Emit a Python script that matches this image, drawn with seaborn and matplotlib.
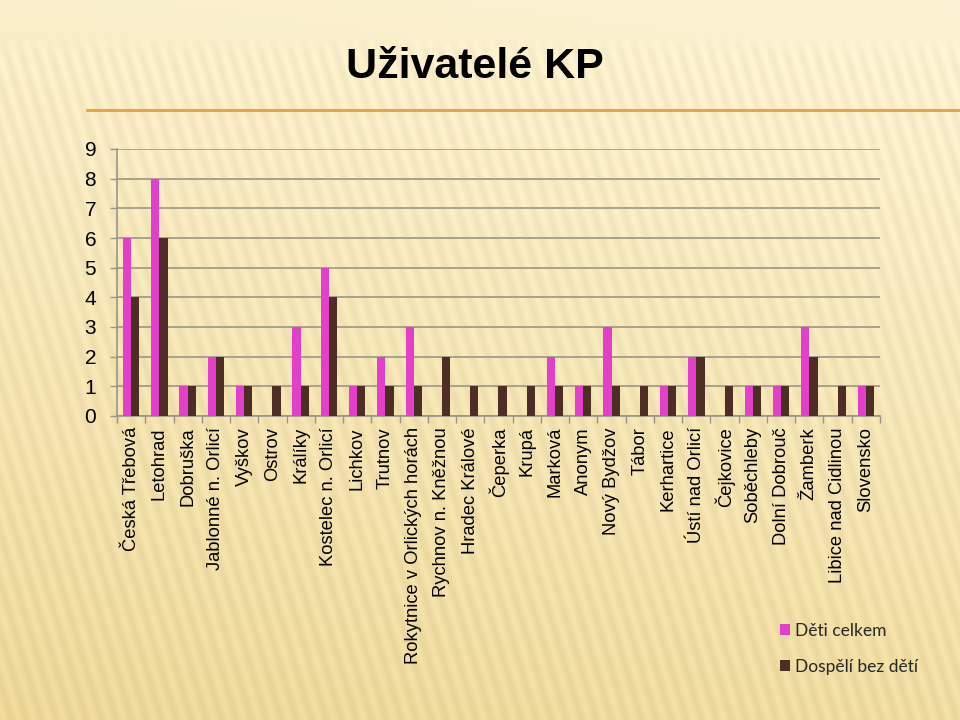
import numpy as np
import pandas as pd
import matplotlib
matplotlib.use("Agg")
import matplotlib.pyplot as plt
from matplotlib.lines import Line2D
from matplotlib.colors import to_rgb
import seaborn as sns

# ---- data ----
categories = [
    "Česká Třebová", "Letohrad", "Dobruška", "Jablonné n. Orlicí", "Vyškov",
    "Ostrov", "Králíky", "Kostelec n. Orlicí", "Lichkov", "Trutnov",
    "Rokytnice v Orlických horách", "Rychnov n. Kněžnou", "Hradec Králové",
    "Čeperka", "Krupá", "Marková", "Anonym", "Nový Bydžov", "Tábor",
    "Kerhartice", "Ústí nad Orlicí", "Čejkovice", "Soběchleby",
    "Dolní Dobrouč", "Žamberk", "Libice nad Cidlinou", "Slovensko",
]
deti_celkem = [6, 8, 1, 2, 1, 0, 3, 5, 1, 2, 3, 0, 0, 0, 0, 2, 1, 3, 0, 1, 2, 0, 1, 1, 3, 0, 1]
dospeli_bez_deti = [4, 6, 1, 2, 1, 1, 1, 4, 1, 1, 1, 2, 1, 1, 1, 1, 1, 1, 1, 1, 2, 1, 1, 1, 2, 1, 1]
series_names = ["Děti celkem", "Dospělí bez dětí"]
title_text = "Uživatelé KP"
y_ticks = list(range(0, 10))

df = pd.DataFrame({
    "kategorie": categories * 2,
    "hodnota": deti_celkem + dospeli_bez_deti,
    "serie": [series_names[0]] * len(categories) + [series_names[1]] * len(categories),
})

sns.set_theme(style="white")
plt.rcParams["font.family"] = ["Liberation Sans", "DejaVu Sans"]

W, H = 960, 720
fig = plt.figure(figsize=(9.6, 7.2), dpi=100)

# ---- background (cream gradient with soft diagonal stripes) ----
bg = fig.add_axes([0, 0, 1, 1], zorder=-10)
yy, xx = np.mgrid[0:H, 0:W].astype(float)
top = np.array(to_rgb("#FDF3D4"))
bot = np.array(to_rgb("#EDD898"))
t = np.clip((yy / H) * 0.85 + (1 - xx / W) * 0.15, 0, 1)
img = top[None, None, :] * (1 - t[..., None]) + bot[None, None, :] * t[..., None]
stripe = np.sin(2 * np.pi * (xx + (H - yy) * 0.3) / 15.0)
mask = np.clip((yy - 35) / 20.0, 0, 1)
img = img + (0.02 * stripe * mask)[..., None]
img = np.clip(img, 0, 1)
bg.imshow(img, aspect="auto", extent=[0, W, H, 0])
bg.set_axis_off()

# decorative orange rule
fig.add_artist(Line2D([87 / W, 1.0], [1 - 110 / H, 1 - 110 / H],
                      transform=fig.transFigure, color="#E8A540", lw=2.2))

# ---- chart ----
ax = fig.add_axes([117 / W, 1 - 416 / H, (880 - 117) / W, (416 - 149) / H])
ax.set_facecolor("none")
sns.barplot(data=df, x="kategorie", y="hodnota", hue="serie",
            palette=["#E23FCB", "#4E2E24"], width=0.58, gap=0,
            saturation=1, ax=ax, zorder=3, linewidth=0, edgecolor="none")

n = len(categories)
ax.set_xlim(-0.5, n - 0.5)
ax.set_ylim(0, 9)
ax.set_yticks(y_ticks)
ax.set_yticklabels([str(v) for v in y_ticks], fontsize=15, color="black")
ax.yaxis.grid(True, color="#A29C8C", lw=1.3, zorder=0)
ax.set_axisbelow(True)
ax.set_xlabel("")
ax.set_ylabel("")

ax.set_xticks(range(n))
ax.set_xticklabels(categories, rotation=90, fontsize=13.2, color="black")
ax.tick_params(axis="x", which="major", length=0, pad=8)
ax.set_xticks(np.arange(-0.5, n, 1), minor=True)
ax.tick_params(axis="x", which="minor", length=5, width=1, color="#9A9488", direction="out", bottom=True)
ax.tick_params(axis="y", length=5, width=1, color="#9A9488", direction="out", left=True, pad=10)

for s in ["top", "right"]:
    ax.spines[s].set_visible(False)
for s in ["left", "bottom"]:
    ax.spines[s].set_color("#9A9488")
    ax.spines[s].set_linewidth(1.2)

handles, labels = ax.get_legend_handles_labels()
ax.legend(handles, labels, loc="upper left",
          bbox_to_anchor=(771 / W, 1 - 614 / H), bbox_transform=fig.transFigure,
          frameon=False, handlelength=0.6, handleheight=0.6,
          handletextpad=0.3, labelspacing=1.15, borderpad=0,
          prop={"family": ["Lato", "DejaVu Sans"], "size": 12.5})

fig.text(475 / W, 1 - 67 / H, title_text, ha="center", va="center",
         fontsize=31, fontweight="bold", color="black")

fig.savefig("out.png", dpi=100)
